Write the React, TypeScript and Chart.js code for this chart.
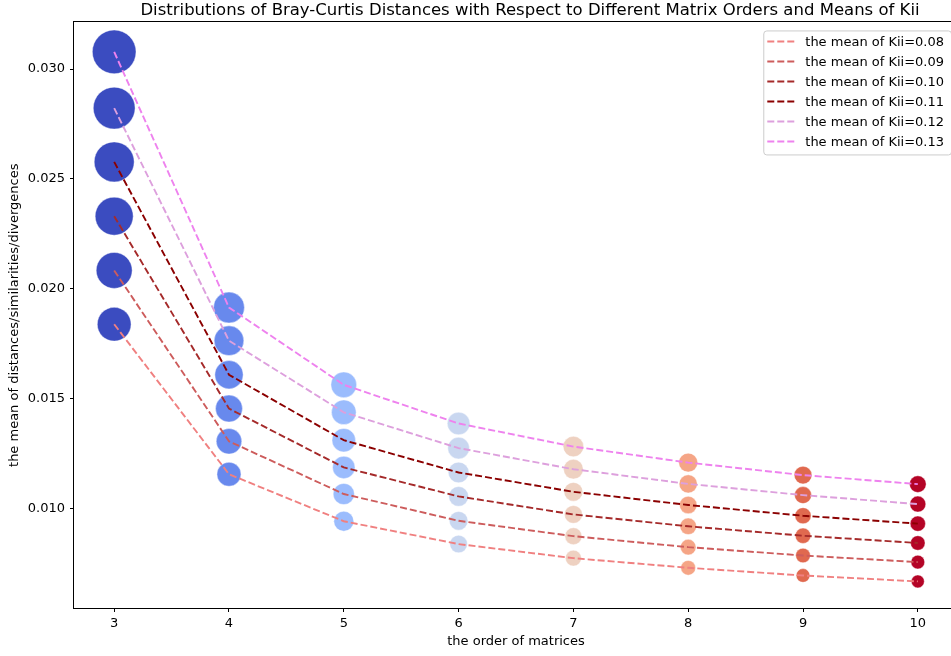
import { useEffect, useRef } from "react";
import { Chart, registerables } from "chart.js";

Chart.register(...registerables);

// ---- data ----
const orders = [3, 4, 5, 6, 7, 8, 9, 10];
const kiiMeans = ["0.08", "0.09", "0.10", "0.11", "0.12", "0.13"];
const kii008 = [0.01838, 0.01155, 0.00941, 0.00837, 0.00773, 0.00729, 0.00694, 0.00667];
const kii009 = [0.02083, 0.01305, 0.01065, 0.00943, 0.00873, 0.00823, 0.00785, 0.00755];
const kii010 = [0.0233, 0.01454, 0.01186, 0.01054, 0.00972, 0.00918, 0.00875, 0.00842];
const kii011 = [0.02577, 0.01608, 0.0131, 0.01163, 0.01075, 0.01015, 0.00966, 0.0093];
const kii012 = [0.02822, 0.01763, 0.01437, 0.01274, 0.01178, 0.01111, 0.0106, 0.01019];
const kii013 = [0.03078, 0.01914, 0.01562, 0.01386, 0.01281, 0.01208, 0.01151, 0.0111];
const seriesList = [kii008, kii009, kii010, kii011, kii012, kii013];
const xTickValues = [3, 4, 5, 6, 7, 8, 9, 10];
const yTickValues = [0.01, 0.015, 0.02, 0.025, 0.03];
const titleText =
  "Distributions of Bray-Curtis Distances with Respect to Different Matrix Orders and Means of Kii";

// ---- styles ----
const lineColors = ["#f08080", "#cd5c5c", "#a52a2a", "#8b0000", "#dda0dd", "#ee82ee"];
const orderColors = ["#3b4cc0", "#6889ed", "#9bbcfd", "#c9d7f0", "#eed1c1", "#f5a586", "#e0694f", "#b40426"];
const FONT = "'DejaVu Sans', sans-serif";

function markerRadius(x: number, y: number) {
  return Math.sqrt(y * 15500 * Math.pow(3 / x, 0.75));
}

const frameLegendTitle = {
  id: "frameLegendTitle",
  afterDatasetsDraw(chart: any) {
    const { ctx, chartArea } = chart;
    ctx.save();
    // frame
    ctx.strokeStyle = "#000";
    ctx.lineWidth = 1;
    ctx.strokeRect(
      Math.round(chartArea.left) - 0.5,
      Math.round(chartArea.top) - 0.5,
      Math.round(chartArea.right - chartArea.left) + 1,
      Math.round(chartArea.bottom - chartArea.top) + 1
    );
    // title
    ctx.font = `16.5px ${FONT}`;
    ctx.fillStyle = "#000";
    ctx.textAlign = "center";
    ctx.textBaseline = "middle";
    ctx.fillText(titleText, 530, 10.5);
    // legend
    const lines = chart.data.datasets.filter((d: any) => d.type === "line");
    ctx.font = `13px ${FONT}`;
    let maxW = 0;
    lines.forEach((d: any) => {
      maxW = Math.max(maxW, ctx.measureText(d.label).width);
    });
    const rowH = 20;
    const boxW = 42 + maxW + 7;
    const boxH = lines.length * rowH + 4;
    const right = chartArea.right - 7;
    const left = right - boxW;
    const top = chartArea.top + 8;
    ctx.fillStyle = "rgba(255,255,255,0.8)";
    ctx.strokeStyle = "#cccccc";
    ctx.lineWidth = 1;
    ctx.beginPath();
    (ctx as any).roundRect(left + 0.5, top + 0.5, boxW, boxH, 3);
    ctx.fill();
    ctx.stroke();
    lines.forEach((d: any, i: number) => {
      const cy = top + 11 + i * rowH;
      ctx.strokeStyle = d.borderColor;
      ctx.lineWidth = 1.9;
      ctx.setLineDash([7, 3]);
      ctx.beginPath();
      ctx.moveTo(left + 4, cy);
      ctx.lineTo(left + 32, cy);
      ctx.stroke();
      ctx.setLineDash([]);
      ctx.fillStyle = "#000";
      ctx.textBaseline = "middle";
      ctx.textAlign = "left";
      ctx.fillText(d.label, left + 42, cy + 1);
    });
    ctx.restore();
  },
};

export default function App() {
  const canvasRef = useRef<HTMLCanvasElement | null>(null);

  useEffect(() => {
    const canvas = canvasRef.current;
    if (!canvas) return;

    const lineSets = seriesList.map((s, i) => ({
      type: "line" as const,
      label: `the mean of Kii=${kiiMeans[i]}`,
      data: orders.map((x, j) => ({ x, y: s[j] })),
      borderColor: lineColors[i],
      backgroundColor: lineColors[i],
      borderWidth: 1.9,
      borderDash: [7, 3],
      pointRadius: 0,
      fill: false,
      tension: 0,
      order: 0,
    }));
    const scatterSets = seriesList.map((s, i) => ({
      type: "scatter" as const,
      label: `pts ${kiiMeans[i]}`,
      data: orders.map((x, j) => ({ x, y: s[j] })),
      backgroundColor: (c: any) => orderColors[orders.indexOf(c.raw.x)],
      borderColor: "rgba(255,255,255,0.7)",
      borderWidth: 0.6,
      pointRadius: (c: any) => markerRadius(c.raw.x, c.raw.y),
      showLine: false,
      order: 1,
    }));

    const chart = new Chart(canvas, {
      type: "scatter",
      data: { datasets: [...lineSets, ...scatterSets] as any },
      plugins: [frameLegendTitle],
      options: {
        responsive: false,
        animation: false,
        events: [],
        layout: { padding: { left: 0, right: 74, top: 21, bottom: 0 } },
        plugins: {
          legend: { display: false },
          tooltip: { enabled: false },
          title: { display: false },
        },
        scales: {
          x: {
            type: "linear",
            min: 2.65,
            max: 10.35,
            afterBuildTicks: (s: any) => {
              s.ticks = xTickValues.map((v) => ({ value: v }));
            },
            afterFit: (s: any) => {
              s.height = 48;
            },
            ticks: {
              autoSkip: false,
              maxRotation: 0,
              color: "#000",
              padding: 4,
              font: { family: FONT, size: 13 },
              callback: (v: any) => String(v),
            },
            grid: {
              display: true,
              drawOnChartArea: false,
              drawTicks: true,
              tickLength: 4,
              tickColor: "#000",
            },
            border: { display: false },
            title: {
              display: true,
              text: "the order of matrices",
              color: "#000",
              font: { family: FONT, size: 13, lineHeight: 1.2 },
              padding: { top: 0, bottom: 7 },
            },
          },
          y: {
            type: "linear",
            min: 0.00546,
            max: 0.03212,
            afterBuildTicks: (s: any) => {
              s.ticks = yTickValues.map((v) => ({ value: v }));
            },
            afterFit: (s: any) => {
              s.width = 74;
            },
            ticks: {
              autoSkip: false,
              color: "#000",
              padding: 5,
              font: { family: FONT, size: 13 },
              callback: (v: any) => Number(v).toFixed(3),
            },
            grid: {
              display: true,
              drawOnChartArea: false,
              drawTicks: true,
              tickLength: 4,
              tickColor: "#000",
            },
            border: { display: false },
            title: {
              display: true,
              text: "the mean of distances/similarities/divergences",
              color: "#000",
              font: { family: FONT, size: 13, lineHeight: 1.2 },
              padding: { top: 7, bottom: 0 },
            },
          },
        },
      } as any,
    });
    return () => chart.destroy();
  }, []);

  return (
    <div
      style={{
        position: "absolute",
        left: 0,
        top: 0,
        width: 951,
        height: 656,
        overflow: "hidden",
        background: "#fff",
      }}
    >
      <canvas ref={canvasRef} width={1032} height={656} style={{ width: 1032, height: 656, display: "block" }} />
    </div>
  );
}
